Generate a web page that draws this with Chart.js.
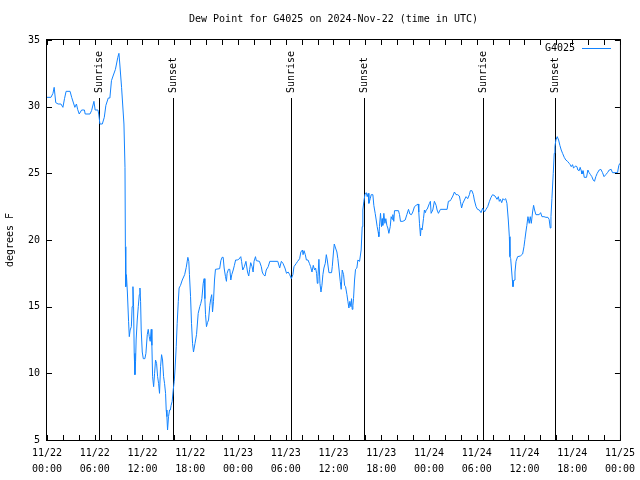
<!DOCTYPE html>
<html>
<head>
<meta charset="utf-8">
<script src="https://cdn.jsdelivr.net/npm/chart.js@4.4.0/dist/chart.umd.min.js"></script>
<style>
  html, body { margin: 0; padding: 0; background: #fff; }
</style>
</head>
<body>
<canvas id="dewChart" width="640" height="480"></canvas>
<script>
// hours since 11/22 00:00 UTC
const hours = [
  0, 0.5, 0.75, 0.9, 1.1, 1.4, 1.75, 2, 2.2, 2.4,
  2.9, 3.1, 3.5, 3.7, 3.85, 4.05, 4.35, 4.7, 4.8, 5.4,
  5.6, 5.9, 6.05, 6.4, 6.5, 6.65, 6.95, 7.2, 7.4, 7.7,
  7.9, 8.1, 8.3, 8.6, 8.9, 9.04, 9.15, 9.37, 9.67, 9.8,
  9.85, 9.9, 9.98, 10.1, 10.25, 10.34, 10.45, 10.6, 10.7, 10.8,
  10.88, 10.96, 11.05, 11.13, 11.2, 11.34, 11.47, 11.6, 11.68, 11.76,
  11.84, 11.97, 12.1, 12.3, 12.43, 12.6, 12.72, 12.85, 12.97, 13.1,
  13.18, 13.27, 13.4, 13.52, 13.64, 13.77, 13.9, 14.02, 14.14, 14.27,
  14.4, 14.52, 14.65, 14.77, 14.9, 14.98, 15.07, 15.15, 15.27, 15.4,
  15.5, 15.6, 15.73, 15.86, 15.99, 16.1, 16.24, 16.36, 16.5, 16.6,
  16.78, 17, 17.3, 17.5, 17.7, 17.82, 17.9, 18.04, 18.16, 18.29,
  18.41, 18.6, 18.79, 19, 19.2, 19.33, 19.46, 19.63, 19.75, 19.84,
  19.92, 20.04, 20.17, 20.3, 20.46, 20.58, 20.7, 20.8, 20.92, 21.05,
  21.17, 21.7, 21.85, 22, 22.14, 22.26, 22.43, 22.55, 22.63, 22.8,
  22.97, 23.1, 23.22, 23.4, 23.55, 23.7, 23.9, 24.1, 24.35, 24.45,
  24.6, 24.8, 25, 25.2, 25.35, 25.47, 25.6, 25.77, 25.9, 26.02,
  26.2, 26.3, 26.7, 26.93, 27.05, 27.2, 27.4, 27.55, 27.8, 28,
  29, 29.24, 29.45, 29.65, 29.9, 30.1, 30.3, 30.5, 30.7, 30.9,
  31.04, 31.33, 31.5, 31.75, 31.9, 32.1, 32.18, 32.3, 32.46, 32.6,
  32.8, 32.97, 33.13, 33.3, 33.46, 33.63, 33.75, 33.88, 33.97, 34.05,
  34.17, 34.3, 34.43, 34.55, 34.67, 34.8, 34.97, 35.1, 35.22, 35.43,
  35.76, 35.85, 36, 36.1, 36.26, 36.43, 36.55, 36.68, 36.85, 36.97,
  37.1, 37.27, 37.4, 37.52, 37.69, 37.81, 37.94, 38.06, 38.19, 38.27,
  38.35, 38.44, 38.52, 38.65, 38.77, 38.94, 39.07, 39.28, 39.48, 39.61,
  39.69, 39.82, 39.95, 40.11, 40.24, 40.36, 40.45, 40.62, 40.74, 40.95,
  41.07, 41.24, 41.37, 41.49, 41.62, 41.7, 41.78, 41.91, 42.04, 42.12,
  42.2, 42.33, 42.46, 42.58, 42.71, 42.83, 42.96, 43.13, 43.25, 43.38,
  43.46, 43.58, 43.67, 44.17, 44.3, 44.42, 44.72, 45.01, 45.22, 45.43,
  45.6, 45.8, 45.97, 46.18, 46.39, 46.64, 46.72, 46.81, 46.93, 47.01,
  47.14, 47.31, 47.43, 47.55, 47.64, 47.77, 47.93, 48.06, 48.18, 48.27,
  48.48, 48.68, 48.9, 49.02, 49.19, 49.44, 50.28, 50.44, 50.69, 50.78,
  51, 51.2, 51.4, 51.6, 51.82, 51.95, 52.1, 52.25, 52.45, 52.66,
  52.87, 53.08, 53.2, 53.4, 53.58, 53.7, 53.92, 54.1, 54.33, 54.54,
  54.75, 54.96, 55.17, 55.38, 55.6, 55.8, 56, 56.3, 56.55, 56.72,
  56.84, 56.97, 57.14, 57.3, 57.47, 57.64, 57.8, 57.97, 58.1, 58.18,
  58.27, 58.4, 58.48, 58.56, 58.64, 58.73, 58.81, 58.94, 59.14, 59.48,
  59.77, 59.94, 60.06, 60.18, 60.3, 60.44, 60.6, 60.73, 60.86, 61.02,
  61.15, 61.27, 61.44, 61.85, 62.03, 62.2, 62.45, 62.7, 62.95, 63.1,
  63.24, 63.33, 63.45, 63.62, 63.74, 63.83, 63.95, 64.12, 64.29, 64.45,
  64.62, 64.79, 65, 65.2, 65.41, 65.62, 65.75, 65.88, 66.04, 66.17,
  66.34, 66.46, 66.59, 66.71, 66.88, 67, 67.13, 67.22, 67.38, 67.51,
  67.8, 67.97, 68.13, 68.3, 68.47, 68.64, 68.8, 68.97, 69.14, 69.39,
  69.6, 69.81, 70, 70.22, 70.43, 70.65, 70.9, 71.06, 71.7, 71.86,
  72
];

// dew point, degrees F
const dewPoint = [
  30.7, 30.7, 31.0, 31.45, 30.3, 30.2, 30.2, 29.95, 30.6, 31.15,
  31.15, 30.7, 29.95, 30.2, 29.8, 29.45, 29.75, 29.75, 29.45, 29.45,
  29.7, 30.4, 29.75, 29.75, 29.45, 28.7, 28.7, 29.2, 30.1, 30.65,
  30.65, 31.95, 32.3, 32.8, 33.7, 34.0, 33.2, 31.45, 28.7, 25.45,
  19.5, 16.5, 17.4, 16.1, 13.9, 12.75, 13.25, 13.5, 15.0, 16.5,
  15.0, 11.5, 9.9, 10.9, 12.5, 14.0, 15.0, 15.9, 16.4, 15.4,
  13.25, 11.6, 11.1, 11.1, 11.5, 12.9, 13.3, 12.75, 12.4, 13.3,
  12.1, 9.75, 9.0, 10.0, 11.0, 10.75, 9.75, 9.25, 8.5, 10.5,
  11.4, 11.0, 9.75, 9.25, 8.5, 7.25, 6.75, 5.75, 6.75, 7.25,
  7.25, 7.6, 7.9, 8.75, 9.4, 10.4, 12.0, 13.75, 15.4, 16.4,
  16.6, 17.0, 17.4, 17.95, 18.7, 18.4, 17.4, 15.75, 13.75, 12.25,
  11.6, 12.25, 12.9, 14.5, 15.0, 15.25, 15.6, 16.75, 17.1, 15.6,
  14.4, 13.5, 13.8, 14.0, 15.1, 15.6, 15.9, 14.6, 15.4, 17.0,
  17.8, 17.85, 18.45, 18.7, 18.7, 17.9, 17.25, 16.9, 17.5, 17.8,
  17.8, 17.0, 17.4, 17.75, 18.1, 18.5, 18.5, 18.55, 18.75, 18.4,
  17.75, 18.0, 18.4, 17.6, 17.3, 17.8, 18.3, 18.0, 17.6, 18.4,
  18.75, 18.45, 18.4, 18.0, 17.6, 17.4, 17.3, 17.75, 18.0, 18.4,
  18.4, 17.9, 18.4, 18.25, 17.9, 17.5, 17.6, 17.4, 17.1, 17.4,
  18.0, 18.25, 18.4, 18.6, 19.1, 19.25, 18.9, 19.2, 18.9, 18.5,
  18.5, 18.25, 18.0, 17.6, 18.1, 17.75, 17.9, 17.5, 16.75, 17.25,
  18.55, 16.75, 16.1, 16.6, 17.4, 17.9, 18.25, 18.9, 18.5, 17.55,
  17.55, 18.0, 19.1, 19.7, 19.4, 19.1, 18.6, 17.9, 16.9, 16.3,
  17.75, 17.4, 16.6, 16.5, 15.9, 15.4, 14.9, 15.4, 15.0, 15.6,
  14.8, 15.1, 15.6, 17.0, 17.8, 17.9, 18.5, 18.4, 19.25, 21.0,
  22.25, 22.9, 23.4, 23.55, 23.25, 23.5, 22.75, 23.1, 23.4, 23.4,
  22.6, 22.0, 21.5, 21.0, 20.6, 20.25, 21.0, 22.0, 21.0, 21.6,
  21.1, 22.0, 21.25, 21.6, 21.1, 20.9, 20.5, 21.0, 21.75, 21.55,
  21.9, 21.4, 22.2, 22.2, 21.9, 21.4, 21.4, 21.5, 21.9, 22.3,
  21.95, 21.9, 22.1, 22.5, 22.6, 22.7, 22.1, 21.25, 20.3, 20.9,
  20.75, 21.6, 22.25, 22.05, 22.25, 22.3, 22.55, 22.75, 22.9, 22.0,
  22.25, 22.9, 22.6, 22.25, 22.0, 22.3, 22.3, 22.9, 22.95, 23.05,
  23.3, 23.6, 23.4, 23.4, 23.3, 22.9, 22.4, 22.75, 23.0, 23.25,
  23.1, 23.4, 23.7, 23.7, 23.4, 23.0, 22.5, 22.3, 22.25, 22.05,
  22.4, 22.1, 22.3, 22.5, 22.9, 23.2, 23.4, 23.3, 23.05, 23.25,
  22.9, 23.05, 22.8, 23.1, 23.0, 23.1, 22.75, 21.5, 20.25, 18.75,
  18.6, 17.6, 17.0, 16.5, 16.9, 17.0, 17.6, 18.4, 18.75, 18.8,
  18.95, 19.5, 20.05, 20.6, 21.1, 21.75, 21.25, 21.75, 21.25, 22.1,
  22.6, 22.25, 21.9, 21.9, 22.05, 21.75, 21.75, 21.7, 21.7, 21.55,
  20.9, 21.75, 23.1, 25.0, 26.5, 27.0, 27.5, 27.75, 27.5, 27.1,
  26.75, 26.5, 26.2, 26.0, 25.9, 25.75, 25.65, 25.5, 25.65, 25.4,
  25.5, 25.55, 25.5, 25.25, 25.2, 25.45, 25.2, 24.95, 25.2, 24.7,
  24.7, 25.25, 25.05, 24.9, 24.75, 24.5, 24.4, 24.75, 25.0, 25.25,
  25.3, 25.05, 24.75, 24.9, 25.05, 25.25, 25.3, 25.05, 25.05, 25.6,
  25.75
];

// sunrise / sunset markers (hours)
const sunHours = [6.55, 15.85, 30.65, 39.82, 54.75, 63.87];
const sunLabels = ['Sunrise', 'Sunset', 'Sunrise', 'Sunset', 'Sunrise', 'Sunset'];
const sunLineTop = 30.65;

// labels every 6 hours
const xTickLabels = [
  ['11/22', '00:00'], ['11/22', '06:00'], ['11/22', '12:00'], ['11/22', '18:00'],
  ['11/23', '00:00'], ['11/23', '06:00'], ['11/23', '12:00'], ['11/23', '18:00'],
  ['11/24', '00:00'], ['11/24', '06:00'], ['11/24', '12:00'], ['11/24', '18:00'],
  ['11/25', '00:00']
];

const chartTitle = 'Dew Point for G4025 on 2024-Nov-22 (time in UTC)';

const FONT = '"DejaVu Sans Mono", "Liberation Mono", monospace';
const LINE_COLOR = '#1283ff';
Chart.defaults.font.family = FONT;
Chart.defaults.font.size = 10;
Chart.defaults.color = '#000';

// gnuplot-ish frame, inward ticks, sun markers, title and key
const gnuplotFrame = {
    id: 'gnuplotFrame',
    beforeDatasetsDraw(chart) {
        const { ctx, scales: { x, y } } = chart;
        ctx.save();
        ctx.strokeStyle = '#000';
        ctx.lineWidth = 1;
        ctx.fillStyle = '#000';
        ctx.font = '10px ' + FONT;
        const bottom = y.getPixelForValue(5);
        const top = y.getPixelForValue(sunLineTop);
        sunHours.forEach((h, i) => {
            const px = Math.round(x.getPixelForValue(h)) + 0.5;
            ctx.beginPath();
            ctx.moveTo(px, bottom);
            ctx.lineTo(px, top);
            ctx.stroke();
            ctx.save();
            ctx.translate(px, top - 5);
            ctx.rotate(-Math.PI / 2);
            ctx.textAlign = 'left';
            ctx.textBaseline = 'middle';
            ctx.fillText(sunLabels[i], 0, 0);
            ctx.restore();
        });
        ctx.restore();
    },
    afterDraw(chart) {
        const { ctx, chartArea: a, scales: { x, y } } = chart;
        const tl = 5;
        ctx.save();
        ctx.strokeStyle = '#000';
        ctx.lineWidth = 1;
        ctx.beginPath();
        x.ticks.forEach(t => {
            const px = Math.round(x.getPixelForValue(t.value)) + 0.5;
            ctx.moveTo(px, a.bottom); ctx.lineTo(px, a.bottom - tl);
            ctx.moveTo(px, a.top); ctx.lineTo(px, a.top + tl);
        });
        y.ticks.forEach(t => {
            const py = Math.round(y.getPixelForValue(t.value)) + 0.5;
            ctx.moveTo(a.left, py); ctx.lineTo(a.left + tl, py);
            ctx.moveTo(a.right, py); ctx.lineTo(a.right - tl, py);
        });
        ctx.stroke();
        ctx.strokeRect(a.left - 0.5, a.top - 0.5, a.right - a.left + 1, a.bottom - a.top + 1);

        ctx.font = '10px ' + FONT;
        ctx.fillStyle = '#000';
        ctx.textBaseline = 'middle';

        // title centred over the plot box
        ctx.textAlign = 'center';
        ctx.fillText(chartTitle, (a.left + a.right) / 2, 19);

        // key
        const ds = chart.data.datasets[0];
        ctx.textAlign = 'right';
        ctx.fillText(ds.label, 575, 48);
        ctx.strokeStyle = ds.borderColor;
        ctx.beginPath();
        ctx.moveTo(582, 48.5);
        ctx.lineTo(611, 48.5);
        ctx.stroke();
        ctx.restore();
    }
};

new Chart(document.getElementById('dewChart'), {
    type: 'line',
    data: {
        datasets: [{
            label: 'G4025',
            data: hours.map((h, i) => ({ x: h, y: dewPoint[i] })),
            borderColor: LINE_COLOR,
            borderWidth: 1,
            pointRadius: 0,
            tension: 0,
            fill: false
        }]
    },
    options: {
        responsive: false,
        animation: false,
        layout: { padding: { left: 0, right: 19, top: 40, bottom: 0 } },
        plugins: {
            legend: { display: false },
            tooltip: { enabled: false },
            title: { display: false }
        },
        scales: {
            x: {
                type: 'linear',
                min: 0,
                max: 72,
                grid: { display: false, drawTicks: false },
                border: { display: false },
                ticks: {
                    stepSize: 2,
                    autoSkip: false,
                    maxRotation: 0,
                    padding: 5,
                    font: { family: FONT, size: 10, lineHeight: 1.6 },
                    callback: v => (v % 6 === 0 ? xTickLabels[v / 6] : '')
                },
                afterFit: s => { s.height = 40; }
            },
            y: {
                min: 5,
                max: 35,
                grid: { display: false, drawTicks: false },
                border: { display: false },
                ticks: { stepSize: 5, padding: 7, font: { family: FONT, size: 10 } },
                title: {
                    display: true,
                    text: 'degrees F',
                    color: '#000',
                    font: { family: FONT, size: 10 },
                    padding: { top: 4, bottom: 0 }
                },
                afterFit: s => { s.width = 47; }
            }
        }
    },
    plugins: [gnuplotFrame]
});
</script>
</body>
</html>
